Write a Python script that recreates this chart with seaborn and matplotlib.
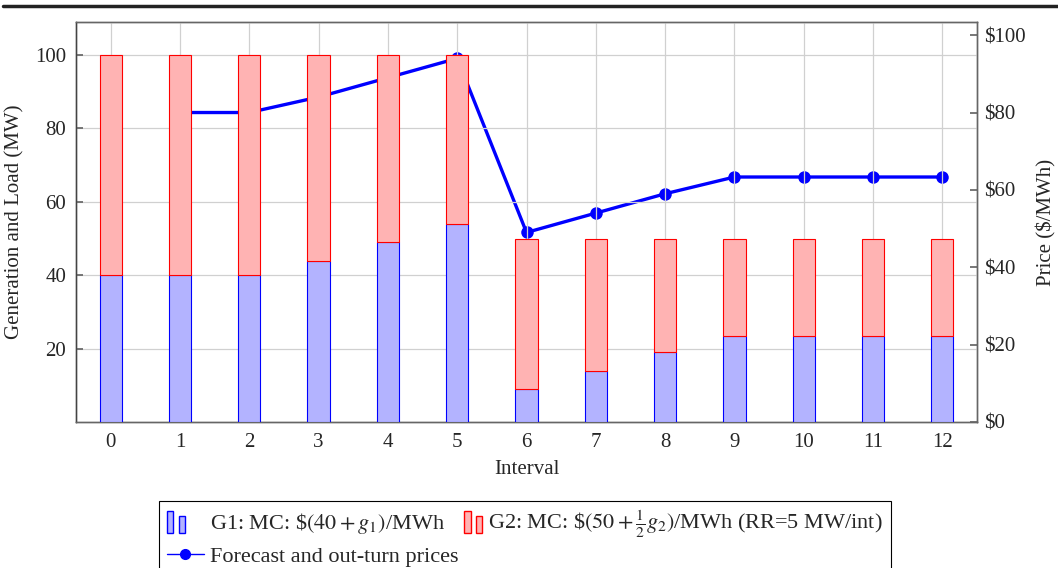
import numpy as np
import pandas as pd
import seaborn as sns
import matplotlib.pyplot as plt
from matplotlib.lines import Line2D
from matplotlib.patches import Rectangle, Patch
from matplotlib.legend_handler import HandlerBase

# dispatch per interval (MW) and the resulting prices ($/MWh)
intervals = list(range(13))
g1 = [40, 40, 40, 44, 49, 54, 9, 14, 19, 23.33, 23.33, 23.33, 23.33]
g2 = [60, 60, 60, 56, 51, 46, 41, 36, 31, 26.67, 26.67, 26.67, 26.67]
price_intervals = list(range(1, 13))
prices = [80, 80, 84, 89, 94, 49, 54, 59, 63.33, 63.33, 63.33, 63.33]

left_ticks = [20, 40, 60, 80, 100]
right_ticks = [0, 20, 40, 60, 80, 100]
right_labels = ['\\$0', '\\$20', '\\$40', '\\$60', '\\$80', '\\$100']

bars = pd.DataFrame({'Interval': intervals, 'G1': g1, 'G2': g2})

sns.set_theme(style='white')
plt.rcParams['font.family'] = ['Liberation Serif', 'DejaVu Serif']
plt.rcParams['mathtext.fontset'] = 'stix'
plt.rcParams['font.size'] = 15

BLUE_FILL = '#b3b3ff'
RED_FILL = '#ffb3b3'
SPINE = '#666666'


class TwoBars(HandlerBase):
    # pgfplots style ybar legend image: two small bars, left or right aligned
    def __init__(self, right=False, **kw):
        super().__init__(**kw)
        self.right = right

    def create_artists(self, legend, orig, xd, yd, width, height, fontsize, trans):
        fc = orig.get_facecolor()
        ec = orig.get_edgecolor()
        x0 = -xd + (0.5 * width if self.right else 0.0)
        r1 = Rectangle((x0, -yd - 0.2 * height), 0.18 * width, 1.4 * height,
                       facecolor=fc, edgecolor=ec, lw=1, transform=trans)
        r2 = Rectangle((x0 + 0.32 * width, -yd - 0.2 * height), 0.16 * width, 1.05 * height,
                       facecolor=fc, edgecolor=ec, lw=1, transform=trans)
        return [r1, r2]


fig = plt.figure(figsize=(10.58, 5.68), dpi=100)
ax = fig.add_axes([76 / 1058, 1 - 422 / 568, 901 / 1058, 400 / 568])
ax2 = ax.twinx()

# price line sits underneath the bars
ax.set_zorder(ax2.get_zorder() + 1)
ax.patch.set_visible(False)

sns.lineplot(x=price_intervals, y=prices, ax=ax2, color='blue', lw=2.4,
             marker='o', markersize=9, markeredgewidth=0, zorder=2)

sns.barplot(data=bars, x='Interval', y='G1', ax=ax, color=BLUE_FILL, saturation=1,
            width=0.32, edgecolor='blue', linewidth=0.8, zorder=3)
sns.barplot(data=bars, x='Interval', y='G2', ax=ax, color=RED_FILL, saturation=1,
            width=0.32, edgecolor='red', linewidth=0.8, bottom=bars['G1'].to_numpy(), zorder=3)

ax.set_xlim(-0.5, 12.5)
ax.set_ylim(0, 109)
ax2.set_ylim(0, 103.4)

ax.set_xticks(intervals)
ax.set_xticklabels([str(i) for i in intervals])
ax.set_yticks(left_ticks)
ax2.set_yticks(right_ticks)
ax2.set_yticklabels(right_labels)

ax.grid(True, color='#d0d0d0', lw=0.9, zorder=0)
ax.set_axisbelow(True)

ax.tick_params(axis='both', direction='in', length=5, color=SPINE, labelsize=15)
ax.tick_params(axis='y', pad=7)
ax.tick_params(axis='x', pad=8)
ax2.tick_params(axis='y', direction='in', length=5, color=SPINE, labelsize=15, pad=5)

for a in (ax, ax2):
    for s in a.spines.values():
        s.set_color(SPINE)
        s.set_linewidth(1.0)
ax.spines['left'].set_color('#444444')

ax.set_xlabel('Interval', fontsize=15, labelpad=6)
ax.set_ylabel('Generation and Load (MW)', fontsize=15, labelpad=8)
ax2.set_ylabel('Price (\\$/MWh)', fontsize=15, labelpad=8)

h_g1 = Patch(facecolor=BLUE_FILL, edgecolor='blue')
h_g2 = Patch(facecolor=RED_FILL, edgecolor='red')
h_price = Line2D([], [], color='blue', lw=1, marker='o', markersize=7)
labels = [
    r'G1: MC: \$$(40 + g_1)$/MWh',
    'Forecast and out-turn prices',
    r'G2: MC: \$$(50 + \frac{1}{2}g_2)$/MWh (RR=5 MW/int)',
]
leg = fig.legend([h_g1, h_price, h_g2], labels, ncol=2, loc='upper center',
                 bbox_to_anchor=(0.496, 1 - 501 / 568), borderaxespad=0, frameon=True,
                 fancybox=False, edgecolor='black', framealpha=1, fontsize=16,
                 handlelength=1.7, handletextpad=0.25, columnspacing=-0.6, borderpad=0.35,
                 labelspacing=0.45,
                 handler_map={h_g1: TwoBars(), h_g2: TwoBars(right=True)})
leg.get_frame().set_linewidth(0.8)

# rule across the top of the page
fig.add_artist(Line2D([0.003, 1.0], [1 - 5.5 / 568] * 2, transform=fig.transFigure,
                      color='#222222', lw=2.5))

fig.savefig('out.png', dpi=100)
